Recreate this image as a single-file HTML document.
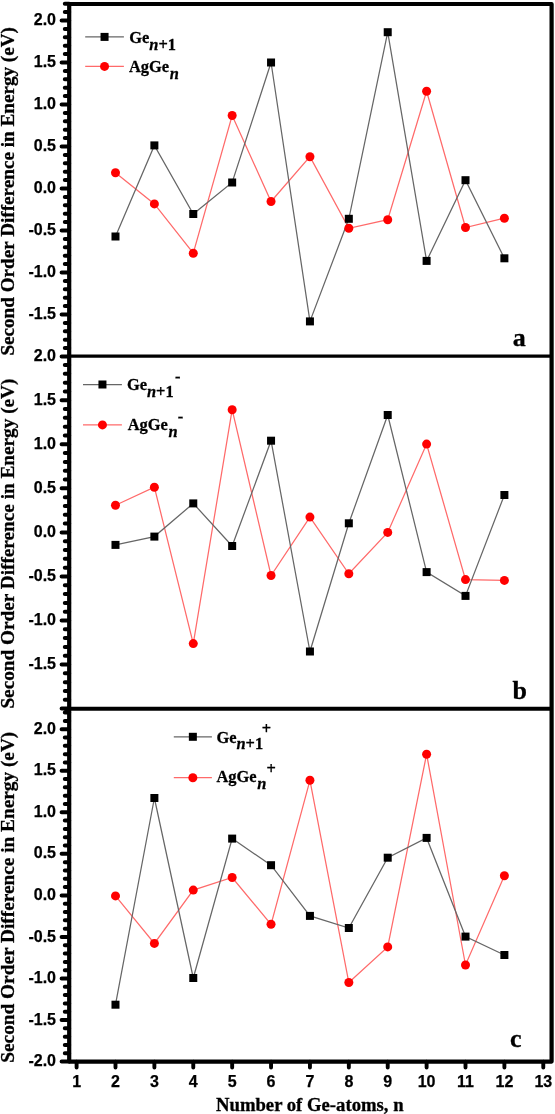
<!DOCTYPE html>
<html><head><meta charset="utf-8"><style>
html,body{margin:0;padding:0;background:#fff;}
body{width:555px;height:1114px;overflow:hidden;}
svg{display:block;will-change:transform;}

</style></head><body>
<svg width="555" height="1114" viewBox="0 0 555 1114">
<rect width="555" height="1114" fill="#fff"/>
<path d="M61.6,356.50H69.2M64.8,348.10H69.2M64.8,339.70H69.2M64.8,331.30H69.2M64.8,322.90H69.2M61.6,314.50H69.2M64.8,306.10H69.2M64.8,297.70H69.2M64.8,289.30H69.2M64.8,280.90H69.2M61.6,272.50H69.2M64.8,264.10H69.2M64.8,255.70H69.2M64.8,247.30H69.2M64.8,238.90H69.2M61.6,230.50H69.2M64.8,222.10H69.2M64.8,213.70H69.2M64.8,205.30H69.2M64.8,196.90H69.2M61.6,188.50H69.2M64.8,180.10H69.2M64.8,171.70H69.2M64.8,163.30H69.2M64.8,154.90H69.2M61.6,146.50H69.2M64.8,138.10H69.2M64.8,129.70H69.2M64.8,121.30H69.2M64.8,112.90H69.2M61.6,104.50H69.2M64.8,96.10H69.2M64.8,87.70H69.2M64.8,79.30H69.2M64.8,70.90H69.2M61.6,62.50H69.2M64.8,54.10H69.2M64.8,45.70H69.2M64.8,37.30H69.2M64.8,28.90H69.2M61.6,20.50H69.2M64.8,12.10H69.2M64.8,3.70H69.2M61.6,708.60H69.2M64.8,699.79H69.2M64.8,690.98H69.2M64.8,682.17H69.2M64.8,673.36H69.2M61.6,664.55H69.2M64.8,655.74H69.2M64.8,646.93H69.2M64.8,638.12H69.2M64.8,629.31H69.2M61.6,620.50H69.2M64.8,611.69H69.2M64.8,602.88H69.2M64.8,594.07H69.2M64.8,585.26H69.2M61.6,576.45H69.2M64.8,567.64H69.2M64.8,558.83H69.2M64.8,550.02H69.2M64.8,541.21H69.2M61.6,532.40H69.2M64.8,523.59H69.2M64.8,514.78H69.2M64.8,505.97H69.2M64.8,497.16H69.2M61.6,488.35H69.2M64.8,479.54H69.2M64.8,470.73H69.2M64.8,461.92H69.2M64.8,453.11H69.2M61.6,444.30H69.2M64.8,435.49H69.2M64.8,426.68H69.2M64.8,417.87H69.2M64.8,409.06H69.2M61.6,400.25H69.2M64.8,391.44H69.2M64.8,382.63H69.2M64.8,373.82H69.2M64.8,365.01H69.2M61.6,1061.60H69.2M64.8,1053.29H69.2M64.8,1044.98H69.2M64.8,1036.67H69.2M64.8,1028.36H69.2M61.6,1020.05H69.2M64.8,1011.74H69.2M64.8,1003.43H69.2M64.8,995.12H69.2M64.8,986.81H69.2M61.6,978.50H69.2M64.8,970.19H69.2M64.8,961.88H69.2M64.8,953.57H69.2M64.8,945.26H69.2M61.6,936.95H69.2M64.8,928.64H69.2M64.8,920.33H69.2M64.8,912.02H69.2M64.8,903.71H69.2M61.6,895.40H69.2M64.8,887.09H69.2M64.8,878.78H69.2M64.8,870.47H69.2M64.8,862.16H69.2M61.6,853.85H69.2M64.8,845.54H69.2M64.8,837.23H69.2M64.8,828.92H69.2M64.8,820.61H69.2M61.6,812.30H69.2M64.8,803.99H69.2M64.8,795.68H69.2M64.8,787.37H69.2M64.8,779.06H69.2M61.6,770.75H69.2M64.8,762.44H69.2M64.8,754.13H69.2M64.8,745.82H69.2M64.8,737.51H69.2M61.6,729.20H69.2M64.8,720.89H69.2M64.8,712.58H69.2" stroke="#000" stroke-width="4.0" stroke-linecap="round" fill="none"/>
<path d="M76.60,1061.6V1067.6M115.49,1061.6V1067.6M154.38,1061.6V1067.6M193.27,1061.6V1067.6M232.16,1061.6V1067.6M271.05,1061.6V1067.6M309.94,1061.6V1067.6M348.83,1061.6V1067.6M387.72,1061.6V1067.6M426.61,1061.6V1067.6M465.50,1061.6V1067.6M504.39,1061.6V1067.6M543.28,1061.6V1067.6" stroke="#000" stroke-width="3.9" stroke-linecap="round" fill="none"/>
<rect x="69.2" y="4.0" width="482.40000000000003" height="1057.6" fill="none" stroke="#000" stroke-width="4.2" stroke-linejoin="round"/>
<path d="M69.2,356.1H551.6" stroke="#000" stroke-width="3.4"/>
<path d="M69.2,708.7H551.6" stroke="#000" stroke-width="3.9"/>
<g font-family="Liberation Sans, sans-serif" font-weight="bold" font-size="16" text-anchor="end" fill="#000" stroke="#000" stroke-width="0.25">
<text x="56" y="25.10">2.0</text>
<text x="56" y="67.10">1.5</text>
<text x="56" y="109.10">1.0</text>
<text x="56" y="151.10">0.5</text>
<text x="56" y="193.10">0.0</text>
<text x="56" y="235.10">-0.5</text>
<text x="56" y="277.10">-1.0</text>
<text x="56" y="319.10">-1.5</text>
<text x="56" y="360.80">2.0</text>
<text x="56" y="404.85">1.5</text>
<text x="56" y="448.90">1.0</text>
<text x="56" y="492.95">0.5</text>
<text x="56" y="537.00">0.0</text>
<text x="56" y="581.05">-0.5</text>
<text x="56" y="625.10">-1.0</text>
<text x="56" y="669.15">-1.5</text>
<text x="56" y="733.80">2.0</text>
<text x="56" y="775.35">1.5</text>
<text x="56" y="816.90">1.0</text>
<text x="56" y="858.45">0.5</text>
<text x="56" y="900.00">0.0</text>
<text x="56" y="941.55">-0.5</text>
<text x="56" y="983.10">-1.0</text>
<text x="56" y="1024.65">-1.5</text>
<text x="56" y="1066.20">-2.0</text>
</g>
<g font-family="Liberation Sans, sans-serif" font-weight="bold" font-size="16" text-anchor="middle" fill="#000" stroke="#000" stroke-width="0.25">
<text x="76.60" y="1087.3">1</text>
<text x="115.49" y="1087.3">2</text>
<text x="154.38" y="1087.3">3</text>
<text x="193.27" y="1087.3">4</text>
<text x="232.16" y="1087.3">5</text>
<text x="271.05" y="1087.3">6</text>
<text x="309.94" y="1087.3">7</text>
<text x="348.83" y="1087.3">8</text>
<text x="387.72" y="1087.3">9</text>
<text x="426.61" y="1087.3">10</text>
<text x="465.50" y="1087.3">11</text>
<text x="504.39" y="1087.3">12</text>
<text x="543.28" y="1087.3">13</text>
</g>
<polyline points="115.49,172.8 154.38,203.9 193.27,253.2 232.16,115.5 271.05,201.5 309.94,156.7 348.83,228.3 387.72,219.7 426.61,91.3 465.50,227.5 504.39,218.2" fill="none" stroke="#ff6a6a" stroke-width="1.25"/>
<polyline points="115.49,236.5 154.38,145.4 193.27,214 232.16,182.5 271.05,62.5 309.94,321.4 348.83,218.8 387.72,32.2 426.61,260.9 465.50,180.2 504.39,258.3" fill="none" stroke="#666666" stroke-width="1.25"/>
<rect x="111.49" y="232.50" width="8.0" height="8.0" fill="#000"/>
<rect x="150.38" y="141.40" width="8.0" height="8.0" fill="#000"/>
<rect x="189.27" y="210.00" width="8.0" height="8.0" fill="#000"/>
<rect x="228.16" y="178.50" width="8.0" height="8.0" fill="#000"/>
<rect x="267.05" y="58.50" width="8.0" height="8.0" fill="#000"/>
<rect x="305.94" y="317.40" width="8.0" height="8.0" fill="#000"/>
<rect x="344.83" y="214.80" width="8.0" height="8.0" fill="#000"/>
<rect x="383.72" y="28.20" width="8.0" height="8.0" fill="#000"/>
<rect x="422.61" y="256.90" width="8.0" height="8.0" fill="#000"/>
<rect x="461.50" y="176.20" width="8.0" height="8.0" fill="#000"/>
<rect x="500.39" y="254.30" width="8.0" height="8.0" fill="#000"/>
<circle cx="115.49" cy="172.8" r="4.5" fill="#ff0000"/>
<circle cx="154.38" cy="203.9" r="4.5" fill="#ff0000"/>
<circle cx="193.27" cy="253.2" r="4.5" fill="#ff0000"/>
<circle cx="232.16" cy="115.5" r="4.5" fill="#ff0000"/>
<circle cx="271.05" cy="201.5" r="4.5" fill="#ff0000"/>
<circle cx="309.94" cy="156.7" r="4.5" fill="#ff0000"/>
<circle cx="348.83" cy="228.3" r="4.5" fill="#ff0000"/>
<circle cx="387.72" cy="219.7" r="4.5" fill="#ff0000"/>
<circle cx="426.61" cy="91.3" r="4.5" fill="#ff0000"/>
<circle cx="465.50" cy="227.5" r="4.5" fill="#ff0000"/>
<circle cx="504.39" cy="218.2" r="4.5" fill="#ff0000"/>
<polyline points="115.49,505.2 154.38,487.2 193.27,643.6 232.16,409.7 271.05,575.5 309.94,517.1 348.83,573.8 387.72,532.4 426.61,444.1 465.50,579.6 504.39,580.4" fill="none" stroke="#ff6a6a" stroke-width="1.25"/>
<polyline points="115.49,544.9 154.38,536.6 193.27,503.4 232.16,546 271.05,440.7 309.94,651.5 348.83,523.3 387.72,415 426.61,572.1 465.50,595.9 504.39,495" fill="none" stroke="#666666" stroke-width="1.25"/>
<rect x="111.49" y="540.90" width="8.0" height="8.0" fill="#000"/>
<rect x="150.38" y="532.60" width="8.0" height="8.0" fill="#000"/>
<rect x="189.27" y="499.40" width="8.0" height="8.0" fill="#000"/>
<rect x="228.16" y="542.00" width="8.0" height="8.0" fill="#000"/>
<rect x="267.05" y="436.70" width="8.0" height="8.0" fill="#000"/>
<rect x="305.94" y="647.50" width="8.0" height="8.0" fill="#000"/>
<rect x="344.83" y="519.30" width="8.0" height="8.0" fill="#000"/>
<rect x="383.72" y="411.00" width="8.0" height="8.0" fill="#000"/>
<rect x="422.61" y="568.10" width="8.0" height="8.0" fill="#000"/>
<rect x="461.50" y="591.90" width="8.0" height="8.0" fill="#000"/>
<rect x="500.39" y="491.00" width="8.0" height="8.0" fill="#000"/>
<circle cx="115.49" cy="505.2" r="4.5" fill="#ff0000"/>
<circle cx="154.38" cy="487.2" r="4.5" fill="#ff0000"/>
<circle cx="193.27" cy="643.6" r="4.5" fill="#ff0000"/>
<circle cx="232.16" cy="409.7" r="4.5" fill="#ff0000"/>
<circle cx="271.05" cy="575.5" r="4.5" fill="#ff0000"/>
<circle cx="309.94" cy="517.1" r="4.5" fill="#ff0000"/>
<circle cx="348.83" cy="573.8" r="4.5" fill="#ff0000"/>
<circle cx="387.72" cy="532.4" r="4.5" fill="#ff0000"/>
<circle cx="426.61" cy="444.1" r="4.5" fill="#ff0000"/>
<circle cx="465.50" cy="579.6" r="4.5" fill="#ff0000"/>
<circle cx="504.39" cy="580.4" r="4.5" fill="#ff0000"/>
<polyline points="115.49,895.9 154.38,943.4 193.27,890.1 232.16,877.5 271.05,924.3 309.94,780.3 348.83,982.5 387.72,946.9 426.61,754.2 465.50,965 504.39,875.8" fill="none" stroke="#ff6a6a" stroke-width="1.25"/>
<polyline points="115.49,1004.7 154.38,798 193.27,978 232.16,838.6 271.05,865.2 309.94,915.9 348.83,928 387.72,857.7 426.61,837.9 465.50,936.6 504.39,955" fill="none" stroke="#666666" stroke-width="1.25"/>
<rect x="111.49" y="1000.70" width="8.0" height="8.0" fill="#000"/>
<rect x="150.38" y="794.00" width="8.0" height="8.0" fill="#000"/>
<rect x="189.27" y="974.00" width="8.0" height="8.0" fill="#000"/>
<rect x="228.16" y="834.60" width="8.0" height="8.0" fill="#000"/>
<rect x="267.05" y="861.20" width="8.0" height="8.0" fill="#000"/>
<rect x="305.94" y="911.90" width="8.0" height="8.0" fill="#000"/>
<rect x="344.83" y="924.00" width="8.0" height="8.0" fill="#000"/>
<rect x="383.72" y="853.70" width="8.0" height="8.0" fill="#000"/>
<rect x="422.61" y="833.90" width="8.0" height="8.0" fill="#000"/>
<rect x="461.50" y="932.60" width="8.0" height="8.0" fill="#000"/>
<rect x="500.39" y="951.00" width="8.0" height="8.0" fill="#000"/>
<circle cx="115.49" cy="895.9" r="4.5" fill="#ff0000"/>
<circle cx="154.38" cy="943.4" r="4.5" fill="#ff0000"/>
<circle cx="193.27" cy="890.1" r="4.5" fill="#ff0000"/>
<circle cx="232.16" cy="877.5" r="4.5" fill="#ff0000"/>
<circle cx="271.05" cy="924.3" r="4.5" fill="#ff0000"/>
<circle cx="309.94" cy="780.3" r="4.5" fill="#ff0000"/>
<circle cx="348.83" cy="982.5" r="4.5" fill="#ff0000"/>
<circle cx="387.72" cy="946.9" r="4.5" fill="#ff0000"/>
<circle cx="426.61" cy="754.2" r="4.5" fill="#ff0000"/>
<circle cx="465.50" cy="965" r="4.5" fill="#ff0000"/>
<circle cx="504.39" cy="875.8" r="4.5" fill="#ff0000"/>
<path d="M85.2,36.9H123.9" stroke="#666666" stroke-width="1.25"/>
<rect x="100.55" y="32.90" width="8.0" height="8.0" fill="#000"/>
<path d="M85.2,66.4H123.9" stroke="#ff6a6a" stroke-width="1.25"/>
<circle cx="104.55" cy="66.4" r="4.5" fill="#ff0000"/>
<g font-family="Liberation Serif, serif" font-weight="bold" fill="#000" stroke="#000" stroke-width="0.3" font-size="17.2">
<text transform="translate(129.3,42.8) scale(0.955,1)">Ge<tspan dy="6.7"><tspan font-style="italic">n</tspan>+1</tspan></text>
<text transform="translate(129.0,72.2) scale(0.955,1)">AgGe<tspan dy="6.7" dx="0.8" font-style="italic">n</tspan></text>
</g>
<path d="M83.0,384.5H121.9" stroke="#666666" stroke-width="1.25"/>
<rect x="98.45" y="380.50" width="8.0" height="8.0" fill="#000"/>
<path d="M83.0,424.9H121.9" stroke="#ff6a6a" stroke-width="1.25"/>
<circle cx="102.45" cy="424.9" r="4.5" fill="#ff0000"/>
<g font-family="Liberation Serif, serif" font-weight="bold" fill="#000" stroke="#000" stroke-width="0.3" font-size="17.2">
<text transform="translate(126.9,390.3) scale(0.955,1)">Ge<tspan dy="6.7"><tspan font-style="italic">n</tspan>+1</tspan><tspan dy="-15.2" dx="1.5">-</tspan></text>
<text transform="translate(127.7,430.4) scale(0.955,1)">AgGe<tspan dy="6.7" dx="0.8" font-style="italic">n</tspan><tspan dy="-15.6" dx="0">-</tspan></text>
</g>
<path d="M173.8,736.8H211.9" stroke="#666666" stroke-width="1.25"/>
<rect x="188.85" y="732.80" width="8.0" height="8.0" fill="#000"/>
<path d="M173.8,777.7H211.9" stroke="#ff6a6a" stroke-width="1.25"/>
<circle cx="192.85" cy="777.7" r="4.5" fill="#ff0000"/>
<g font-family="Liberation Serif, serif" font-weight="bold" fill="#000" stroke="#000" stroke-width="0.3" font-size="17.2">
<text transform="translate(216.4,742.6) scale(0.955,1)">Ge<tspan dy="6.7"><tspan font-style="italic">n</tspan>+1</tspan><tspan dy="-15" dx="-1.5">+</tspan></text>
<text transform="translate(216.5,782.2) scale(0.955,1)">AgGe<tspan dy="6.7" dx="0.8" font-style="italic">n</tspan><tspan dy="-14.5" dx="0">+</tspan></text>
</g>
<g font-family="Liberation Serif, serif" font-weight="bold" font-size="26" fill="#000" stroke="#000" stroke-width="0.3">
<text x="512.7" y="345.6">a</text>
<text x="512.5" y="699.2">b</text>
<text x="510" y="1047.3">c</text>
</g>
<g font-family="Liberation Serif, serif" font-weight="bold" font-size="19" fill="#000" stroke="#000" stroke-width="0.3">
<text transform="translate(13.6,355.6) rotate(-90)" font-size="19.2" textLength="328.5" lengthAdjust="spacingAndGlyphs">Second Order Difference in Energy (eV)</text>
<text transform="translate(13.6,708.6) rotate(-90)" font-size="19.2" textLength="330.0" lengthAdjust="spacingAndGlyphs">Second Order Difference in Energy (eV)</text>
<text transform="translate(13.6,1062.7) rotate(-90)" font-size="19.2" textLength="331.0" lengthAdjust="spacingAndGlyphs">Second Order Difference in Energy (eV)</text>
<text x="216" y="1110.5" font-size="18.7">Number of Ge-atoms, n</text>
</g>
</svg>
</body></html>
